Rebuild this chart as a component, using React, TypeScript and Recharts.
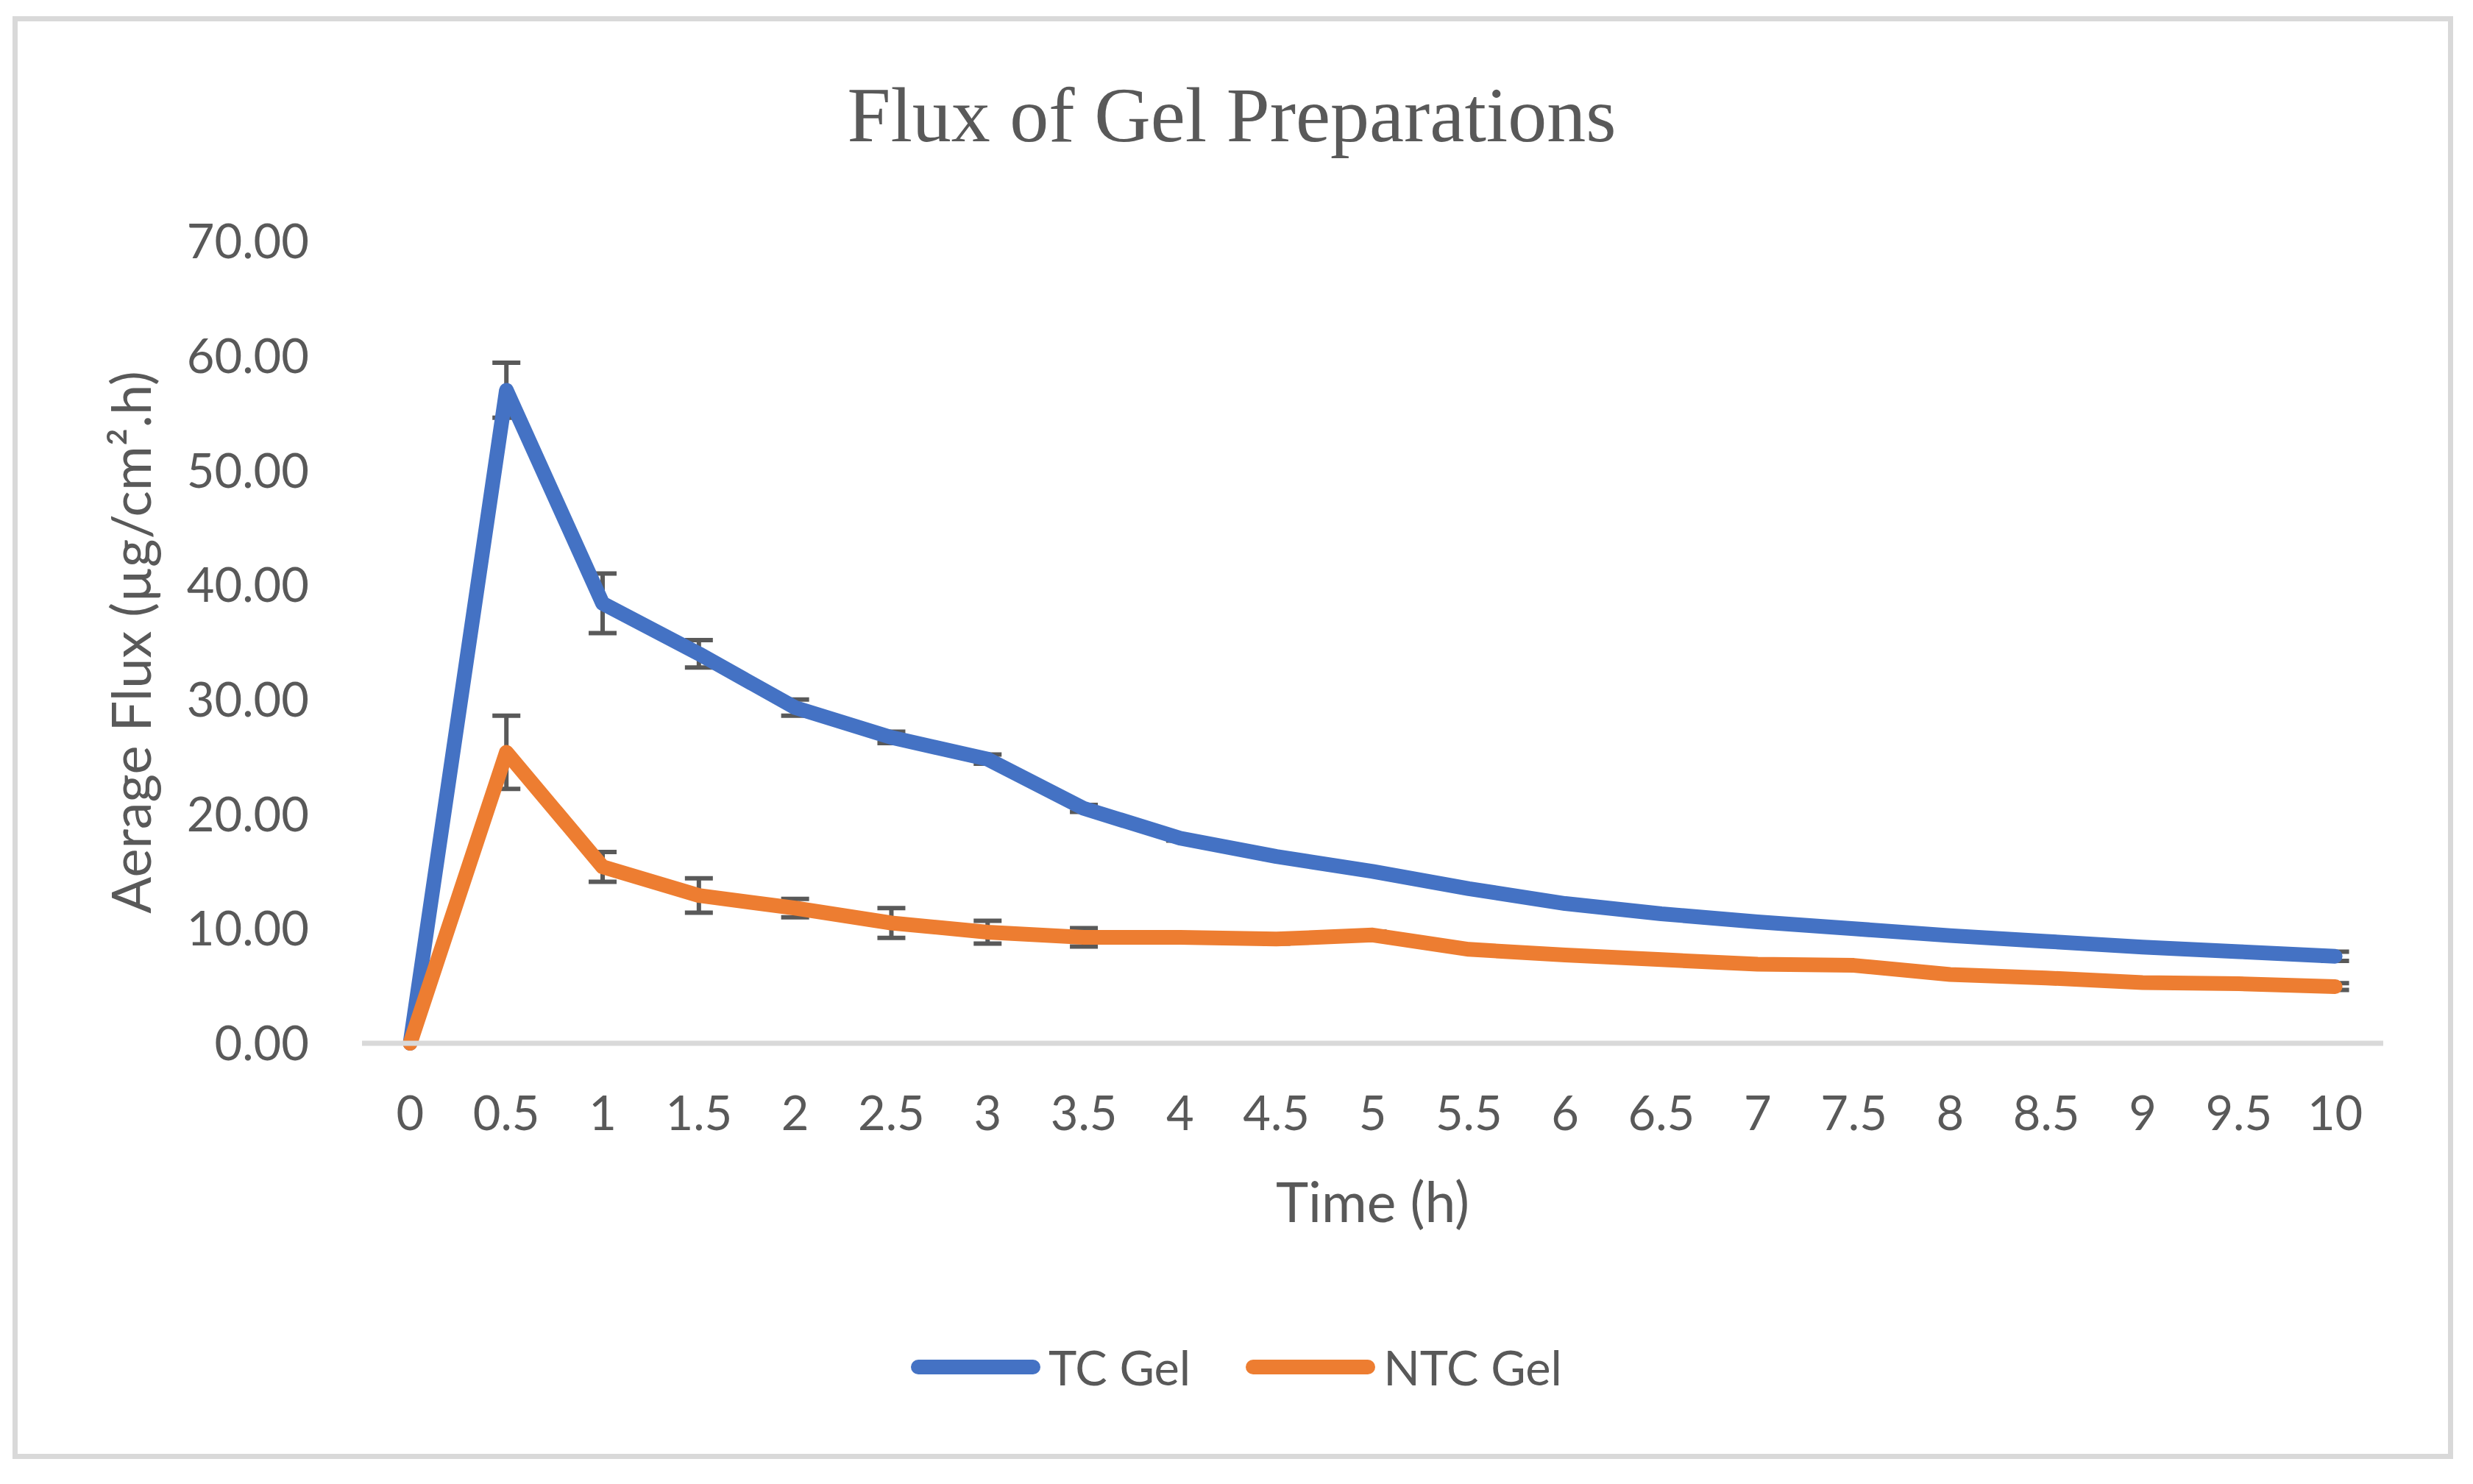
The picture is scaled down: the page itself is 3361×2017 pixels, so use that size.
import React from "react";
import { LineChart, Line, XAxis, YAxis, ErrorBar, Legend, Label } from "recharts";

// sampling times (h)
const times = ["0", "0.5", "1", "1.5", "2", "2.5", "3", "3.5", "4", "4.5", "5", "5.5", "6", "6.5", "7", "7.5", "8", "8.5", "9", "9.5", "10"];

// average flux (µg/cm².h) and error
const tcGel = [0, 57.0, 38.4, 34.0, 29.3, 26.7, 24.8, 20.5, 17.9, 16.3, 15.0, 13.5, 12.2, 11.3, 10.6, 10.0, 9.4, 8.9, 8.4, 8.0, 7.6];
const tcGelErr = [0, 2.4, 2.6, 1.2, 0.7, 0.5, 0.4, 0.3, 0.2, 0.2, 0.2, 0.2, 0.2, 0.2, 0.2, 0.2, 0.2, 0.2, 0.2, 0.2, 0.4];
const ntcGel = [0, 25.4, 15.4, 12.9, 11.8, 10.5, 9.7, 9.25, 9.25, 9.1, 9.45, 8.2, 7.7, 7.3, 6.9, 6.8, 6.0, 5.7, 5.3, 5.2, 4.95];
const ntcGelErr = [0, 3.2, 1.3, 1.5, 0.8, 1.3, 1.0, 0.8, 0.3, 0.4, 0.3, 0.2, 0.2, 0.2, 0.2, 0.2, 0.2, 0.2, 0.2, 0.2, 0.3];

const seriesNames = ["TC Gel", "NTC Gel"];
const yTicks = [0, 10, 20, 30, 40, 50, 60, 70];

const data = times.map((t, i) => ({
  time: t,
  tc: tcGel[i],
  tcErr: tcGelErr[i],
  ntc: ntcGel[i],
  ntcErr: ntcGelErr[i],
}));

const FONT = "Lato, 'Open Sans', sans-serif";
const GREY = "#595959";

function LegendContent(props: any) {
  // keep series order, not alphabetical
  const items = [...(props.payload || [])].sort(
    (a: any, b: any) => seriesNames.indexOf(a.value) - seriesNames.indexOf(b.value)
  );
  return (
    <div style={{ display: "flex", justifyContent: "center", alignItems: "center", height: 100, width: "100%" }}>
      {items.map((it: any, i: number) => (
        <div key={i} style={{ display: "flex", alignItems: "center", marginLeft: i === 0 ? 0 : 75 }}>
          <svg width={176} height={20}>
            <line x1={10} y1={10} x2={166} y2={10} stroke={it.color} strokeWidth={20} strokeLinecap="round" />
          </svg>
          <span style={{ marginLeft: 11, fontFamily: FONT, fontSize: 65, color: GREY, lineHeight: "100px" }}>{it.value}</span>
        </div>
      ))}
    </div>
  );
}

export default function App() {
  return (
    <div style={{ position: "relative", width: 3345, height: 2000 }}>
      <div
        style={{
          position: "absolute",
          left: 9,
          top: 14,
          width: 3317,
          height: 1961,
          border: "7px solid #d9d9d9",
          boxSizing: "border-box",
        }}
      />
      <div
        style={{
          position: "absolute",
          top: 96,
          left: 0,
          width: 3332,
          textAlign: "center",
          fontFamily: "'Liberation Serif', serif",
          fontSize: 106,
          lineHeight: "106px",
          color: GREY,
        }}
      >
        Flux of Gel Preparations
      </div>
      <div style={{ position: "absolute", left: 0, top: 0 }}>
        <LineChart width={3345} height={2000} data={data} margin={{ top: 320, right: 114, bottom: 100, left: 84 }}>
          <XAxis
            dataKey="time"
            scale="point"
            padding={{ left: 65.4, right: 65.4 }}
            height={390}
            tickLine={false}
            tickSize={0}
            tickMargin={72}
            axisLine={{ stroke: "#d9d9d9", strokeWidth: 7 }}
            tick={{ fill: GREY, fontSize: 65, fontFamily: FONT }}
            interval={0}
          >
            <Label value="Time (h)" position="insideTop" offset={190} style={{ fill: GREY, fontSize: 75, fontFamily: FONT }} />
          </XAxis>
          <YAxis
            type="number"
            domain={[0, 70]}
            ticks={yTicks}
            width={400}
            axisLine={false}
            tickLine={false}
            tickSize={0}
            tickMargin={72}
            tickFormatter={(v: number) => v.toFixed(2)}
            tick={{ fill: GREY, fontSize: 65, fontFamily: FONT }}
          >
            <Label
              value="Aerage Flux (µg/cm².h)"
              angle={-90}
              position="insideLeft"
              offset={87}
              style={{ fill: GREY, fontSize: 74, fontFamily: FONT, textAnchor: "middle" }}
            />
          </YAxis>
          <Legend
            verticalAlign="bottom"
            height={100}
            content={LegendContent}
            wrapperStyle={{ left: 0, width: 3345, bottom: 100 }}
          />
          <Line
            type="linear"
            dataKey="tc"
            name={seriesNames[0]}
            stroke="#4472c4"
            strokeWidth={20}
            strokeLinecap="round"
            strokeLinejoin="round"
            dot={false}
            isAnimationActive={false}
          >
            <ErrorBar dataKey="tcErr" direction="y" width={19} strokeWidth={6} stroke={GREY} />
          </Line>
          <Line
            type="linear"
            dataKey="ntc"
            name={seriesNames[1]}
            stroke="#ed7d31"
            strokeWidth={20}
            strokeLinecap="round"
            strokeLinejoin="round"
            dot={false}
            isAnimationActive={false}
          >
            <ErrorBar dataKey="ntcErr" direction="y" width={19} strokeWidth={6} stroke={GREY} />
          </Line>
        </LineChart>
      </div>
    </div>
  );
}
